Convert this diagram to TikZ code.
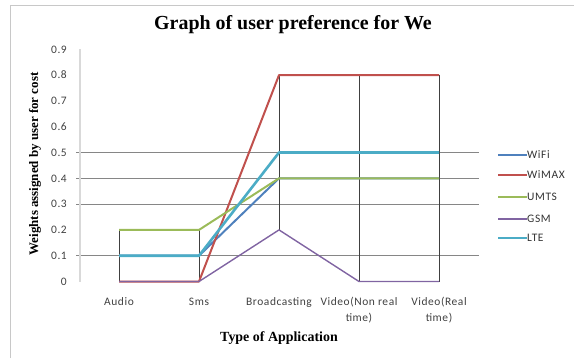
\documentclass[tikz,border=0pt]{standalone}
\usepackage{fontspec}
\setmainfont{Liberation Serif}
\newfontfamily\lblfont[LetterSpace=5]{Carlito}
\definecolor{cWiFi}{HTML}{4F81BD}
\definecolor{cWiMAX}{HTML}{C0504D}
\definecolor{cUMTS}{HTML}{9BBB59}
\definecolor{cGSM}{HTML}{8064A2}
\definecolor{cLTE}{HTML}{4BACC6}
\definecolor{gridc}{HTML}{868686}
\definecolor{axisc}{HTML}{D9D9D9}
\definecolor{borderc}{HTML}{C8C8C8}
\definecolor{hlc}{HTML}{404040}
\tikzset{
  gridline/.style={draw=gridc, line width=0.8bp},
  hiloline/.style={draw=hlc, line width=0.8bp},
  axisline/.style={draw=axisc, line width=1.5bp},
  borderline/.style={draw=borderc, line width=1bp},
  series/.style={line width=2bp, line join=round},
  ticklbl/.style={font=\lblfont\fontsize{11.5}{13}\selectfont, text=black!75, anchor=base east, inner sep=0pt},
  catlbl/.style={font=\lblfont\fontsize{11.5}{16}\selectfont, text=black!75, align=center, anchor=base, inner sep=0pt},
  leglbl/.style={font=\lblfont\fontsize{11.5}{13}\selectfont, text=black!80, anchor=west, inner sep=0pt},
  titlelbl/.style={font=\bfseries\fontsize{20}{24}\selectfont, inner sep=0pt},
  axtitle/.style={font=\bfseries\fontsize{13}{16}\selectfont, inner sep=0pt}
}
\newcommand{\vy}[1]{281.5-258*#1}
\begin{document}
\begin{tikzpicture}[x=1bp,y=-1bp]
\useasboundingbox (0,0) rectangle (574,358);
% border
\draw[borderline] (10,358) -- (10,5) -- (574,5);
% title
\node[titlelbl] (title) at (293,25) {Graph of user preference for We};
% axis titles
\node[axtitle, rotate=90] (ytitle) at (35,164) {Weights assigned by user for cost};
\node[axtitle, font=\bfseries\fontsize{14}{16}\selectfont] (xtitle) at (279,338) {Type of Application};
% gridlines
\foreach \v in {0.1,0.3,0.4,0.5}
  \draw[gridline] (76,{\vy{\v}}) -- (479,{\vy{\v}});
% vertical axis
\draw[axisline] (80,49) -- (80,282);
% tick labels
\foreach \v/\t in {0/0,0.1/0.1,0.2/0.2,0.3/0.3,0.4/0.4,0.5/0.5,0.6/0.6,0.7/0.7,0.8/0.8,0.9/0.9}
  \node[ticklbl] (tk\t) at (67,{\vy{\v}+3.7}) {\t};
% high-low lines
\foreach \i/\lo/\hi in {0/0/0.2,1/0/0.2,2/0.2/0.8,3/0/0.8,4/0/0.8}
  \draw[hiloline] ({119+80*\i},{\vy{\lo}}) -- ({119+80*\i},{\vy{\hi}});
% series
\draw[series, cWiFi] (119,{\vy{0.1}}) -- (199,{\vy{0.1}}) -- (279,{\vy{0.4}}) -- (359,{\vy{0.4}}) -- (439,{\vy{0.4}});
\draw[series, cWiMAX] (119,{\vy{0}}) -- (199,{\vy{0}}) -- (279,{\vy{0.8}}) -- (359,{\vy{0.8}}) -- (439,{\vy{0.8}});
\draw[series, cUMTS] (119,{\vy{0.2}}) -- (199,{\vy{0.2}}) -- (279,{\vy{0.4}}) -- (359,{\vy{0.4}}) -- (439,{\vy{0.4}});
\draw[series, cGSM, line width=1.4bp] (119,{\vy{0}}) -- (199,{\vy{0}}) -- (279,{\vy{0.2}}) -- (359,{\vy{0}}) -- (439,{\vy{0}});
\draw[series, cLTE, line width=2.6bp] (119,{\vy{0.1}}) -- (199,{\vy{0.1}}) -- (279,{\vy{0.5}}) -- (359,{\vy{0.5}}) -- (439,{\vy{0.5}});
% category labels
\node[catlbl] (cat0) at (119,305) {Audio};
\node[catlbl] (cat1) at (199,305) {Sms};
\node[catlbl] (cat2) at (279,305) {Broadcasting};
\node[catlbl] (cat3) at (359,321) {Video(Non real\\time)};
\node[catlbl] (cat4) at (439,321) {Video(Real\\time)};
% legend
\foreach \n/\c/\y/\w in {WiFi/cWiFi/155/2,WiMAX/cWiMAX/175/2,UMTS/cUMTS/197/2,GSM/cGSM/219/1.4,LTE/cLTE/238/2.6}{
  \coordinate (lg\n a) at (498,\y);
  \node[leglbl] (lg\n) at (527,\y) {\n};
  \draw[\c, line width=\w bp] (lg\n a) -- (lg\n.west);
}
\end{tikzpicture}
\end{document}
